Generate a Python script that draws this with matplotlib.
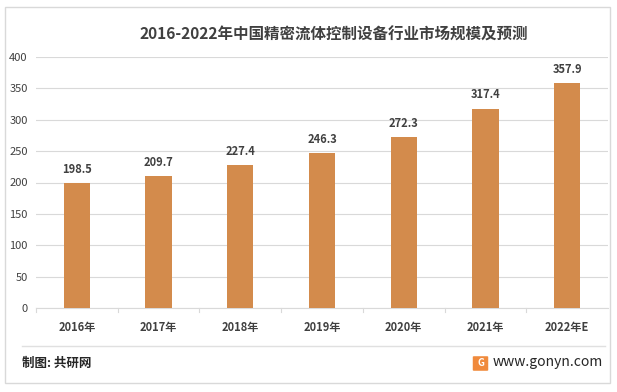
import matplotlib
matplotlib.use("Agg")
import matplotlib.pyplot as plt
from matplotlib.patches import Rectangle, FancyBboxPatch
from matplotlib.lines import Line2D

plt.rcParams['font.family'] = ['Noto Sans CJK SC', 'DejaVu Sans']

categories = ["2016年", "2017年", "2018年", "2019年", "2020年", "2021年", "2022年E"]
values = [198.5, 209.7, 227.4, 246.3, 272.3, 317.4, 357.9]
yticks = [0, 50, 100, 150, 200, 250, 300, 350, 400]
title = "2016-2022年中国精密流体控制设备行业市场规模及预测"

W, H = 617, 392
fig = plt.figure(figsize=(W/100, H/100), dpi=100)
fig.patch.set_facecolor('white')

# outer border
fig.add_artist(Rectangle((5/W, 9/H), 605/W, 376/H, transform=fig.transFigure,
                         fill=False, edgecolor='#D9D9D9', lw=1))

ax = fig.add_axes([36/W, 1-308/H, 572/W, (308-57)/H])
x = range(len(categories))
ax.bar(x, values, width=0.32, color='#D38B4C', zorder=3)
for xi, v in zip(x, values):
    ax.text(xi, v + 12, f"{v:.1f}", ha='center', va='bottom', fontsize=8,
            color='#404040', fontweight='bold')
ax.set_ylim(0, 400)
ax.set_xlim(-0.5, len(categories)-0.5)
ax.set_yticks(yticks)
ax.set_yticklabels([str(t) for t in yticks])
ax.set_xticks(list(x))
ax.set_xticklabels(categories)
ax.yaxis.grid(True, color='#D9D9D9', lw=0.8, zorder=0)
for s in ['top', 'right', 'left']:
    ax.spines[s].set_visible(False)
ax.spines['bottom'].set_color('#D9D9D9')
ax.tick_params(axis='y', length=0, labelsize=8, labelcolor='#404040', pad=6)
ax.tick_params(axis='x', length=0, labelsize=8, labelcolor='#404040', pad=9)
for lbl in ax.get_xticklabels():
    lbl.set_fontweight('bold')
# x-axis tick marks between categories
for b in [i + 0.5 for i in range(len(categories)-1)] + [-0.5]:
    ax.plot([b, b], [0, -6], color='#D9D9D9', lw=0.8, clip_on=False)

fig.text(334/W, 1-35/H, title, ha='center', va='center', fontsize=11.2,
         fontweight='bold', color='#404040')

# footer separator
fig.add_artist(Line2D([22/W, 605/W], [1-346/H, 1-346/H], color='#E0E0E0', lw=1))
fig.text(22/W, 1-363/H, "制图: 共研网", ha='left', va='center', fontsize=9,
         color='#262626', fontweight='bold')
# logo
fig.add_artist(FancyBboxPatch((474/W, 1-370/H), 13/W, 13/H,
                              boxstyle="round,pad=0.002", transform=fig.transFigure,
                              facecolor='#F08A3C', edgecolor='none'))
fig.text(480.5/W, 1-363.5/H, "G", ha='center', va='center', fontsize=7,
         color='white', fontweight='bold')
fig.text(493/W, 1-362/H, "www.gonyn.com", ha='left', va='center', fontsize=10,
         color='#262626')

fig.savefig("out.png", dpi=100)
